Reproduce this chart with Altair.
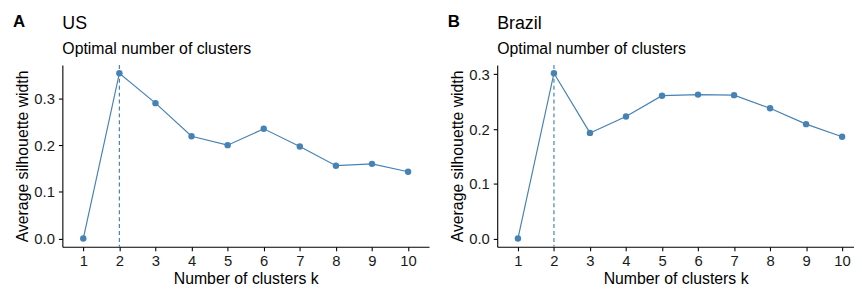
import altair as alt
import pandas as pd

# ---- data ----
k_values = [1, 2, 3, 4, 5, 6, 7, 8, 9, 10]
us_silhouette = [0.0, 0.354, 0.290, 0.219, 0.200, 0.235, 0.197, 0.156, 0.160, 0.143]
brazil_silhouette = [0.0, 0.302, 0.193, 0.223, 0.261, 0.263, 0.262, 0.238, 0.209, 0.186]
optimal_k = [2, 2]
panel_letters = ["A", "B"]
countries = ["US", "Brazil"]
subtitle = "Optimal number of clusters"
y_ticks = [0.0, 0.1, 0.2, 0.3]

BLUE = "#4682B4"
FONT = "Liberation Sans"


def axis(values, fmt, title, label_pad, title_pad):
    return alt.Axis(
        values=values,
        format=fmt,
        title=title,
        grid=False,
        labelOverlap=False,
        domainColor="black",
        domainWidth=1.1,
        tickColor="black",
        tickSize=4,
        tickWidth=1.1,
        labelFont=FONT,
        labelFontSize=15,
        labelColor="#1a1a1a",
        labelPadding=label_pad,
        titleFont=FONT,
        titleFontSize=16,
        titleFontWeight="normal",
        titleColor="black",
        titlePadding=title_pad,
    )


def text_mark(txt, size, weight, xpos, ypos):
    return (
        alt.Chart(pd.DataFrame({"label": [txt]}))
        .mark_text(font=FONT, fontSize=size, fontWeight=weight, align="left",
                   baseline="alphabetic", color="black")
        .encode(text="label:N", x=alt.value(xpos), y=alt.value(ypos))
    )


def panel(vals, best, letter, country, xdom, width):
    df = pd.DataFrame({"k": k_values, "sil": vals})
    ymax = max(vals)
    pad = 0.05 * ymax
    x = alt.X(
        "k:Q",
        scale=alt.Scale(domain=xdom, nice=False, zero=False),
        axis=axis(k_values, "d", "Number of clusters k", 3, 2),
    )
    y = alt.Y(
        "sil:Q",
        scale=alt.Scale(domain=[-pad, ymax + pad], nice=False, zero=False),
        axis=axis(y_ticks, ".1f", "Average silhouette width", 4, 3),
    )
    base = alt.Chart(df)
    rule = (
        alt.Chart(pd.DataFrame({"k": [best]}))
        .mark_rule(color=BLUE, strokeDash=[4, 3], strokeWidth=1.2)
        .encode(x=alt.X("k:Q"))
    )
    line = base.mark_line(color=BLUE, strokeWidth=1.2).encode(x=x, y=y)
    pts = base.mark_circle(color=BLUE, size=42, opacity=1).encode(x=x, y=y)
    t_letter = text_mark(letter, 17, "bold", -50, -38)
    t_country = text_mark(country, 18, "normal", 0, -36)
    t_sub = text_mark(subtitle, 16, "normal", 0, -11)
    return alt.layer(line, pts, rule, t_letter, t_country, t_sub).properties(
        width=width, height=184
    )


left = panel(us_silhouette, optimal_k[0], panel_letters[0], countries[0], [0.42, 10.58], 371)
right = panel(brazil_silhouette, optimal_k[1], panel_letters[1], countries[1], [0.425, 10.33], 361)

chart = (
    alt.hconcat(left, right, spacing=19)
    .resolve_scale(x="independent", y="independent")
    .properties(padding={"left": 5, "top": 4, "right": 0, "bottom": 0})
    .configure_view(stroke=None)
)

chart.save("out.html", embed_options={"renderer": "svg", "actions": False})
